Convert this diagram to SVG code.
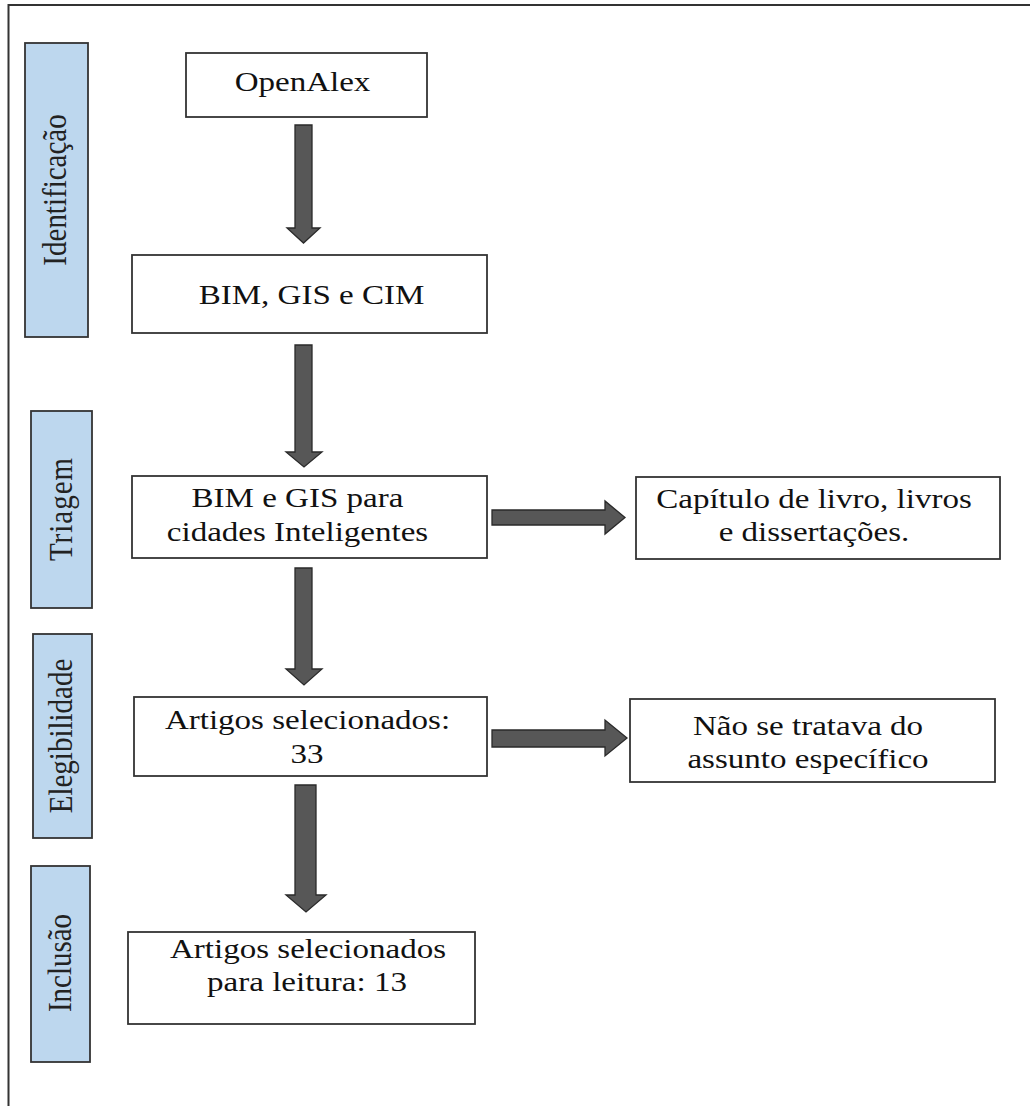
<svg xmlns="http://www.w3.org/2000/svg" width="1030" height="1106" viewBox="0 0 1030 1106">
<style>
.box{fill:#fff;stroke:#333;stroke-width:1.8}
.lane{fill:#bdd7ee;stroke:#333;stroke-width:1.8}
.t{font-family:"Liberation Serif","Times New Roman",serif;font-size:28px;fill:#111;text-anchor:middle}
.lt{font-family:"Liberation Serif","Times New Roman",serif;font-size:29px;fill:#222;text-anchor:middle}
.arr{fill:#575757;stroke:#2a2a2a;stroke-width:1.3;stroke-linejoin:miter}
.frame{fill:none;stroke:#333;stroke-width:2}
</style>
<rect width="1030" height="1106" fill="#fff"/>
<path class="frame" d="M8.5 1106 V5 H1030"/>

<g id="lane-identificacao">
<rect class="lane" x="25" y="43" width="63" height="294"/>
<text class="lt" transform="translate(66,190) scale(1.18,1) rotate(-90)">Identificação</text>
</g>
<g id="lane-triagem">
<rect class="lane" x="31" y="411" width="61" height="197"/>
<text class="lt" transform="translate(72,509) scale(1.18,1) rotate(-90)" letter-spacing="1">Triagem</text>
</g>
<g id="lane-elegibilidade">
<rect class="lane" x="33" y="634" width="59" height="204"/>
<text class="lt" transform="translate(72,736) scale(1.18,1) rotate(-90)">Elegibilidade</text>
</g>
<g id="lane-inclusao">
<rect class="lane" x="31" y="866" width="59" height="196"/>
<text class="lt" transform="translate(71,963) scale(1.18,1) rotate(-90)">Inclusão</text>
</g>

<g id="node-openalex">
<rect class="box" x="186" y="53" width="241" height="64"/>
<text class="t" transform="translate(302.5,91) scale(1.18,1)">OpenAlex</text>
</g>
<g id="node-bim-gis-cim">
<rect class="box" x="132" y="255" width="355" height="78"/>
<text class="t" transform="translate(311.5,304) scale(1.18,1)">BIM, GIS e CIM</text>
</g>
<g id="node-bim-gis-cidades">
<rect class="box" x="132" y="476" width="355" height="82"/>
<text class="t" transform="translate(297.5,507) scale(1.18,1)">BIM e GIS para</text>
<text class="t" transform="translate(297.5,541) scale(1.18,1)">cidades Inteligentes</text>
</g>
<g id="node-capitulo">
<rect class="box" x="636" y="477" width="364" height="82"/>
<text class="t" transform="translate(814,508) scale(1.18,1)">Capítulo de livro, livros</text>
<text class="t" transform="translate(814,541) scale(1.18,1)">e dissertações.</text>
</g>
<g id="node-artigos-33">
<rect class="box" x="134" y="697" width="353" height="79"/>
<text class="t" transform="translate(307.5,729) scale(1.18,1)">Artigos selecionados:</text>
<text class="t" transform="translate(307,763) scale(1.18,1)">33</text>
</g>
<g id="node-nao-tratava">
<rect class="box" x="630" y="699" width="365" height="83"/>
<text class="t" transform="translate(808,735) scale(1.18,1)">Não se tratava do</text>
<text class="t" transform="translate(808,768) scale(1.18,1)">assunto específico</text>
</g>
<g id="node-artigos-13">
<rect class="box" x="128" y="932" width="347" height="92"/>
<text class="t" transform="translate(308,958) scale(1.18,1)">Artigos selecionados</text>
<text class="t" transform="translate(307,991) scale(1.18,1)">para leitura: 13</text>
</g>

<g id="connectors">
<path class="arr" d="M295 125 H312 V228 H320 L303.5 243 L287 228 H295 Z"/>
<path class="arr" d="M295 345 H312 V452 H322 L304 467 L286 452 H295 Z"/>
<path class="arr" d="M295 568 H312 V669 H322 L304 685 L286 669 H295 Z"/>
<path class="arr" d="M295 785 H316 V895 H326 L306 912 L286 895 H295 Z"/>
<path class="arr" d="M492 510 H605 V501 L625 517.5 L605 534 V525 H492 Z"/>
<path class="arr" d="M492 730 H605 V720 L627 738 L605 756 V747 H492 Z"/>
</g>
</svg>
